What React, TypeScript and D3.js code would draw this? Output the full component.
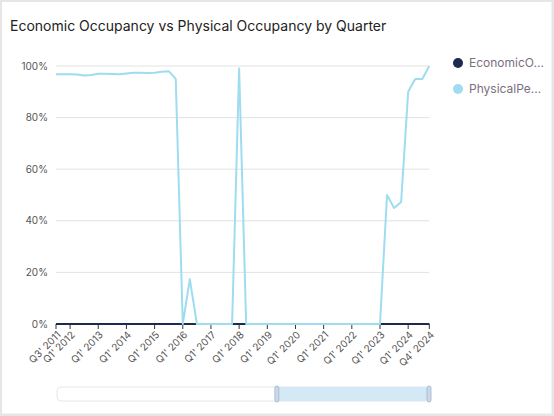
import { useRef, useEffect } from 'react';
import * as d3 from 'd3';

const quarters = [
  "Q3' 2011", "Q4' 2011",
  "Q1' 2012", "Q2' 2012", "Q3' 2012", "Q4' 2012",
  "Q1' 2013", "Q2' 2013", "Q3' 2013", "Q4' 2013",
  "Q1' 2014", "Q2' 2014", "Q3' 2014", "Q4' 2014",
  "Q1' 2015", "Q2' 2015", "Q3' 2015", "Q4' 2015",
  "Q1' 2016", "Q2' 2016", "Q3' 2016", "Q4' 2016",
  "Q1' 2017", "Q2' 2017", "Q3' 2017", "Q4' 2017",
  "Q1' 2018", "Q2' 2018", "Q3' 2018", "Q4' 2018",
  "Q1' 2019", "Q2' 2019", "Q3' 2019", "Q4' 2019",
  "Q1' 2020", "Q2' 2020", "Q3' 2020", "Q4' 2020",
  "Q1' 2021", "Q2' 2021", "Q3' 2021", "Q4' 2021",
  "Q1' 2022", "Q2' 2022", "Q3' 2022", "Q4' 2022",
  "Q1' 2023", "Q2' 2023", "Q3' 2023", "Q4' 2023",
  "Q1' 2024", "Q2' 2024", "Q3' 2024", "Q4' 2024",
];

// percent values
const physical = [
  96.8, 96.8, 96.8, 96.7, 96.3, 96.5, 97.0, 97.0, 96.9, 96.8,
  97.1, 97.4, 97.4, 97.3, 97.4, 97.8, 98.0, 95.0,
  0, 17.4, 0, 0, 0, 0, 0, 0,
  99.0,
  0, 0, 0, 0, 0, 0, 0, 0, 0, 0,
  0, 0, 0, 0, 0, 0, 0, 0, 0, 0,
  50.0, 45.0, 47.3, 90.0, 95.0, 95.0, 100.0,
];

const economic = [
  0, 0, 0, 0, 0, 0, 0, 0, 0, 0,
  0, 0, 0, 0, 0, 0, 0, 0, 0, 0,
  0, 0, 0, 0, 0, 0, 0, 0, 0, 0,
  0, 0, 0, 0, 0, 0, 0, 0, 0, 0,
  0, 0, 0, 0, 0, 0, 0, 0, 0, 0,
  0, 0, 0, 0,
];

const tickLabels = [
  "Q3' 2011", "Q1' 2012", "Q1' 2013", "Q1' 2014", "Q1' 2015",
  "Q1' 2016", "Q1' 2017", "Q1' 2018", "Q1' 2019", "Q1' 2020",
  "Q1' 2021", "Q1' 2022", "Q1' 2023", "Q1' 2024", "Q4' 2024",
];

const yTicks = [0, 20, 40, 60, 80, 100];

const seriesNames = ['EconomicO...', 'PhysicalPe...'];
const seriesColors = ['#1b2a4e', '#9fdcf0'];

const W = 554;
const H = 416;

const App = () => {
  const ref = useRef<SVGSVGElement>(null);

  useEffect(() => {
    const svg = d3.select(ref.current);
    svg.selectAll('*').remove();
    const font = 'Inter, "Noto Sans", sans-serif';

    // card
    svg.append('rect').attr('width', W).attr('height', H).attr('fill', '#e6e6e6');
    svg.append('rect').attr('x', 2).attr('y', 2).attr('width', 549.5).attr('height', 411.5).attr('fill', '#fff');

    svg.append('text')
      .attr('x', 10).attr('y', 31)
      .attr('font-family', font).attr('font-size', 14)
      .attr('fill', '#222')
      .text('Economic Occupancy vs Physical Occupancy by Quarter');

    const x = d3.scalePoint<string>().domain(quarters).range([56, 429.3]);
    const y = d3.scaleLinear().domain([0, 100]).range([324, 66]);

    // grid + y labels
    const grid = svg.append('g');
    grid.selectAll('line')
      .data(yTicks.filter(d => d > 0))
      .enter().append('line')
      .attr('x1', 56).attr('x2', 429.3)
      .attr('y1', d => y(d)).attr('y2', d => y(d))
      .attr('stroke', '#e2e2e2').attr('stroke-width', 1);

    svg.append('g').selectAll('text')
      .data(yTicks)
      .enter().append('text')
      .attr('x', 48).attr('y', d => y(d))
      .attr('dy', '0.35em')
      .attr('text-anchor', 'end')
      .attr('font-family', font).attr('font-size', 10)
      .attr('fill', '#555')
      .text(d => `${d}%`);

    // x axis
    const axis = svg.append('g').attr('transform', `translate(0, ${y(0)})`);
    axis.append('line')
      .attr('x1', 56).attr('x2', 429.3)
      .attr('stroke', '#333').attr('stroke-width', 1);
    axis.selectAll('.tick')
      .data(tickLabels)
      .enter().append('line')
      .attr('class', 'tick')
      .attr('x1', d => x(d)!).attr('x2', d => x(d)!)
      .attr('y1', 0).attr('y2', 5)
      .attr('stroke', '#333');
    axis.selectAll('.lbl')
      .data(tickLabels)
      .enter().append('text')
      .attr('class', 'lbl')
      .attr('transform', d => `translate(${x(d)! + 3}, 9) rotate(-45)`)
      .attr('dy', '0.35em')
      .attr('text-anchor', 'end')
      .attr('font-family', font).attr('font-size', 10)
      .attr('fill', '#555')
      .text(d => d);

    // lines
    const line = d3.line<number>()
      .x((_, i) => x(quarters[i])!)
      .y(d => y(d));

    svg.append('path')
      .datum(economic)
      .attr('d', line)
      .attr('fill', 'none')
      .attr('stroke', seriesColors[0])
      .attr('stroke-width', 2);

    svg.append('path')
      .datum(physical)
      .attr('d', line)
      .attr('fill', 'none')
      .attr('stroke', seriesColors[1])
      .attr('stroke-width', 2)
      .attr('stroke-linejoin', 'round');

    // legend
    const legend = svg.append('g');
    seriesNames.forEach((name, i) => {
      const ly = 63 + i * 26;
      legend.append('circle')
        .attr('cx', 458).attr('cy', ly).attr('r', 5)
        .attr('fill', seriesColors[i]);
      legend.append('text')
        .attr('x', 469).attr('y', ly)
        .attr('dy', '0.35em')
        .attr('font-family', font).attr('font-size', 12)
        .attr('fill', '#7a6f80')
        .text(name);
    });

    // scrollbar
    const sb = svg.append('g');
    sb.append('rect')
      .attr('x', 57).attr('y', 387).attr('width', 372).attr('height', 14)
      .attr('rx', 4)
      .attr('fill', '#fff').attr('stroke', '#e6e6e6');
    const selStart = x("Q2' 2019")! + 2.5;
    sb.append('rect')
      .attr('x', selStart).attr('y', 387).attr('width', 429 - selStart).attr('height', 14)
      .attr('fill', '#d3eaf6');
    [selStart, 429].forEach(hx => {
      sb.append('rect')
        .attr('x', hx - 2).attr('y', 386).attr('width', 4).attr('height', 16)
        .attr('rx', 2)
        .attr('fill', '#c9d9ea').attr('stroke', '#a3b3c9').attr('stroke-width', 0.8);
    });
  }, []);

  return (
    <svg ref={ref} width={W} height={H} style={{ position: 'absolute', left: 0, top: 0 }}></svg>
  );
};

export default App;
